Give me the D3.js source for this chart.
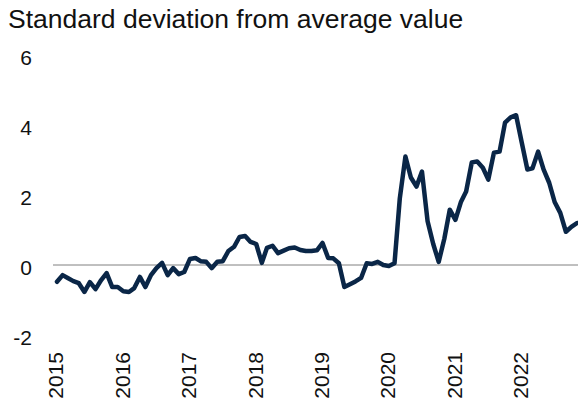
<!DOCTYPE html>
<html>
<head>
<meta charset="utf-8">
<script src="https://cdn.jsdelivr.net/npm/d3@7"></script>
<style>
  body { margin: 0; background: #fff; }
  text { font-family: "Liberation Sans", Arial, sans-serif; fill: #111; }
</style>
</head>
<body>
<svg width="578" height="405"></svg>
<script>
// monthly readings, standard deviations from average, Jan 2015 - Nov 2022
var values = [
  -0.48, -0.29, -0.37, -0.46, -0.52, -0.77, -0.49, -0.69, -0.43, -0.23,
  -0.63, -0.63, -0.75, -0.77, -0.66, -0.34, -0.63, -0.29, -0.09, 0.06,
  -0.29, -0.09, -0.26, -0.20, 0.17, 0.20, 0.11, 0.09, -0.09, 0.09,
  0.11, 0.40, 0.52, 0.80, 0.83, 0.66, 0.60, 0.06, 0.49, 0.55,
  0.34, 0.41, 0.48, 0.50, 0.43, 0.40, 0.40, 0.42, 0.63, 0.20,
  0.19, 0.05, -0.63, -0.55, -0.47, -0.37, 0.05, 0.03, 0.09, 0.00,
  -0.03, 0.05, 1.90, 3.10, 2.50, 2.24, 2.67, 1.25, 0.60, 0.09,
  0.75, 1.58, 1.29, 1.81, 2.10, 2.93, 2.96, 2.78, 2.44, 3.21,
  3.24, 4.07, 4.22, 4.28, 3.50, 2.73, 2.76, 3.24, 2.73, 2.35,
  1.80, 1.49, 0.95, 1.09, 1.20
];
var years = [2015, 2016, 2017, 2018, 2019, 2020, 2021, 2022];
var yTicks = [-2, 0, 2, 4, 6];
var title = "Standard deviation from average value";

var svg = d3.select("svg");

var dates = values.map(function(v, i) { return new Date(2015, i, 1); });

var x = d3.scaleTime().domain(d3.extent(dates)).range([57, 577]);
var y = d3.scaleLinear().domain([-2, 6]).range([335, 55]);

// title
svg.append("text")
  .attr("x", 8)
  .attr("y", 28)
  .style("font-size", "26.5px")
  .text(title);

// y labels
svg.selectAll(".ylab")
  .data(yTicks)
  .enter()
  .append("text")
  .attr("class", "ylab")
  .attr("x", 32)
  .attr("y", function(d) { return y(d) + 3; })
  .attr("dy", "0.35em")
  .style("text-anchor", "end")
  .style("font-size", "21px")
  .text(function(d) { return d; });

// x labels, rotated
svg.selectAll(".xlab")
  .data(years)
  .enter()
  .append("text")
  .attr("class", "xlab")
  .attr("transform", function(d) {
    return "translate(" + (x(new Date(d, 0, 1)) - 1) + ",352) rotate(-90)";
  })
  .attr("dy", "0.35em")
  .style("text-anchor", "end")
  .style("font-size", "21px")
  .text(function(d) { return d; });

// zero line
svg.append("line")
  .attr("x1", 53)
  .attr("x2", 578)
  .attr("y1", y(0))
  .attr("y2", y(0))
  .attr("stroke", "#808080")
  .attr("stroke-width", 1);

var line = d3.line()
  .x(function(d, i) { return x(dates[i]); })
  .y(function(d) { return y(d); });

svg.append("path")
  .datum(values)
  .attr("fill", "none")
  .attr("stroke", "#0a2647")
  .attr("stroke-width", 4.5)
  .attr("stroke-linejoin", "round")
  .attr("stroke-linecap", "round")
  .attr("d", line);
</script>
</body>
</html>
